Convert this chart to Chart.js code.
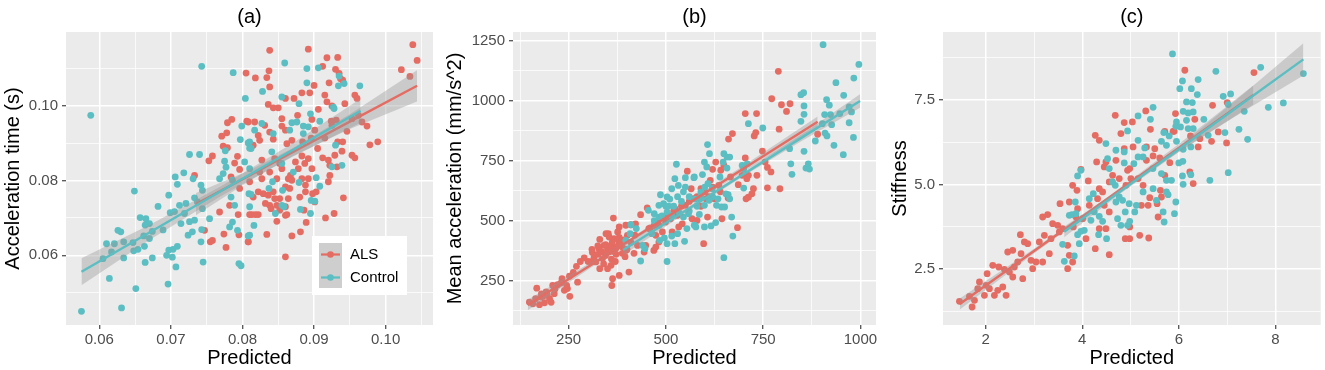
<!DOCTYPE html>
<html>
<head>
<meta charset="utf-8">
<script src="https://cdn.jsdelivr.net/npm/chart.js@4.4.1/dist/chart.umd.min.js"></script>
<style>
  html, body { margin: 0; padding: 0; background: #ffffff; }
  #wrap { position: relative; width: 1325px; height: 370px; }
  .panel { position: absolute; top: 0; height: 370px; }
</style>
</head>
<body>
<div id="wrap">
  <div class="panel" style="left:0;width:440px"><canvas id="chartA" width="440" height="370"></canvas></div>
  <div class="panel" style="left:440px;width:440px"><canvas id="chartB" width="440" height="370"></canvas></div>
  <div class="panel" style="left:880px;width:445px"><canvas id="chartC" width="445" height="370"></canvas></div>
</div>
<script>
const groups = ["ALS", "Control"];

// ---- panel (a): acceleration time ----
const aAls = [
  [0.0805,0.1088],[0.0785,0.0964],[0.0779,0.0955],[0.0806,0.0959],[0.0771,0.0919],[0.0778,0.0928],[0.0773,0.0892],
  [0.0779,0.0888],[0.0758,0.0866],[0.0753,0.0853],[0.0789,0.0847],[0.0793,0.0865],[0.0796,0.0830],[0.0733,0.0814],
  [0.0768,0.0716],[0.0758,0.0640],[0.0755,0.0636],[0.0774,0.0657],[0.0777,0.0621],[0.0747,0.0667],[0.0795,0.0655],
  [0.0808,0.0636],[0.0794,0.0709],[0.0782,0.0734],[0.0796,0.0779],[0.0784,0.0810],[0.0810,0.0709],
  [0.0838,0.1149],[0.0892,0.1152],[0.0918,0.1129],[0.0933,0.1130],[0.0912,0.1106],[0.0930,0.1098],[0.0935,0.1087],
  [0.0940,0.1069],[0.0937,0.1073],[0.0900,0.1055],[0.0921,0.1062],[0.0837,0.1094],[0.0818,0.1075],[0.0834,0.1076],
  [0.0838,0.1051],[0.0883,0.1035],[0.0894,0.1035],[0.0872,0.1020],[0.0860,0.1020],[0.0915,0.1029],[0.0918,0.1011],
  [0.0925,0.1000],[0.0943,0.1006],[0.0960,0.1020],[0.0957,0.1029],[0.0836,0.1004],[0.0850,0.0995],[0.0843,0.0995],
  [0.0855,0.0966],[0.0906,0.0991],[0.0817,0.0957],[0.0831,0.0948],[0.0855,0.0946],[0.0860,0.0935],[0.0877,0.0975],
  [0.0897,0.0964],[0.0901,0.0935],[0.0924,0.0959],[0.0931,0.0962],[0.0925,0.0948],[0.0946,0.0932],[0.0953,0.0966],
  [0.0967,0.0957],[0.0974,0.0946],[0.0978,0.0896],[0.0989,0.0904],[0.0962,0.0975],[0.1022,0.1097],[0.1034,0.1079],
  [0.1038,0.1164],[0.1044,0.1122],[0.0822,0.0921],[0.0838,0.0930],[0.0843,0.0911],[0.0824,0.0908],[0.0808,0.0957],
  [0.0815,0.0895],[0.0862,0.0899],[0.0869,0.0908],[0.0884,0.0904],[0.0896,0.0914],[0.0905,0.0886],[0.0915,0.0914],
  [0.0933,0.0904],[0.0940,0.0904],[0.0939,0.0879],[0.0929,0.0868],[0.0912,0.0861],[0.0920,0.0855],[0.0922,0.0841],
  [0.0932,0.0837],[0.0953,0.0868],[0.0957,0.0861],[0.0827,0.0855],[0.0845,0.0859],[0.0852,0.0846],[0.0883,0.0866],
  [0.0892,0.0859],[0.0887,0.0846],[0.0874,0.0850],[0.0878,0.0832],[0.0897,0.0832],[0.0838,0.0823],[0.0824,0.0823],
  [0.0810,0.0797],[0.0827,0.0805],[0.0848,0.0805],[0.0864,0.0805],[0.0869,0.0801],[0.0883,0.0805],[0.0892,0.0805],
  [0.0922,0.0814],[0.0920,0.0797],[0.0860,0.0783],[0.0866,0.0779],[0.0888,0.0788],[0.0888,0.0770],[0.0898,0.0765],
  [0.0903,0.0770],[0.0941,0.0754],[0.0822,0.0770],[0.0829,0.0765],[0.0836,0.0761],[0.0843,0.0770],[0.0845,0.0752],
  [0.0852,0.0752],[0.0864,0.0752],[0.0880,0.0756],[0.0815,0.0756],[0.0832,0.0739],[0.0838,0.0734],[0.0848,0.0734],
  [0.0860,0.0730],[0.0901,0.0743],[0.0886,0.0721],[0.0840,0.0725],[0.0852,0.0721],[0.0860,0.0707],[0.0862,0.0709],
  [0.0822,0.0709],[0.0813,0.0709],[0.0818,0.0709],[0.0848,0.0691],[0.0889,0.0688],[0.0916,0.0700],[0.0928,0.0712],
  [0.0834,0.0656],[0.0869,0.0652],[0.0881,0.0663],[0.0808,0.0636],[0.0860,0.0596],[0.0867,0.0814],[0.0855,0.0832]
];
const aCtrl = [
  [0.0743,0.1106],[0.0787,0.1089],[0.0804,0.1020],[0.0588,0.0975],[0.0649,0.0772],[0.0726,0.0870],[0.0740,0.0870],
  [0.0706,0.0810],[0.0718,0.0821],[0.0709,0.0790],[0.0697,0.0761],[0.0682,0.0731],[0.0657,0.0701],[0.0665,0.0698],
  [0.0670,0.0685],[0.0664,0.0681],[0.0626,0.0667],[0.0630,0.0663],[0.0610,0.0631],[0.0621,0.0631],[0.0634,0.0636],
  [0.0647,0.0634],[0.0654,0.0616],[0.0648,0.0612],[0.0663,0.0624],[0.0662,0.0652],[0.0670,0.0645],[0.0674,0.0664],
  [0.0689,0.0668],[0.0605,0.0591],[0.0617,0.0609],[0.0634,0.0593],[0.0664,0.0581],[0.0674,0.0593],[0.0614,0.0538],
  [0.0651,0.0511],[0.0696,0.0523],[0.0575,0.0450],[0.0631,0.0459],[0.0694,0.0600],[0.0697,0.0614],[0.0703,0.0616],
  [0.0709,0.0624],[0.0702,0.0595],[0.0707,0.0569],[0.0745,0.0582],[0.0742,0.0636],[0.0730,0.0663],[0.0724,0.0654],
  [0.0743,0.0669],[0.0714,0.0685],[0.0719,0.0712],[0.0699,0.0714],[0.0705,0.0717],[0.0712,0.0734],[0.0721,0.0739],
  [0.0733,0.0754],[0.0737,0.0743],[0.0742,0.0788],[0.0744,0.0774],[0.0754,0.0698],[0.0726,0.0690],[0.0733,0.0694],
  [0.0744,0.0725],[0.0731,0.0805],[0.0768,0.0805],[0.0773,0.0819],[0.0775,0.0852],[0.0777,0.0836],[0.0786,0.0801],
  [0.0784,0.0756],[0.0789,0.0734],[0.0786,0.0689],[0.0782,0.0676],[0.0793,0.0667],[0.0795,0.0578],[0.0798,0.0572],
  [0.0808,0.0652],[0.0799,0.0946],[0.0797,0.0910],[0.0808,0.0901],[0.0776,0.0880],[0.0803,0.0850],[0.0810,0.0887],
  [0.0809,0.0765],[0.0810,0.0730],
  [0.0859,0.1115],[0.0890,0.1100],[0.0906,0.1102],[0.0890,0.1062],[0.0935,0.1080],[0.0934,0.1054],[0.0942,0.1060],
  [0.0964,0.1054],[0.0828,0.1039],[0.0855,0.1024],[0.0879,0.1006],[0.0895,0.0979],[0.0927,0.0997],[0.0928,0.0993],
  [0.0869,0.0955],[0.0876,0.0957],[0.0885,0.0946],[0.0892,0.0944],[0.0908,0.0959],[0.0827,0.0953],[0.0817,0.0935],
  [0.0843,0.0926],[0.0866,0.0935],[0.0885,0.0926],[0.0810,0.0904],[0.0841,0.0877],[0.0855,0.0846],[0.0812,0.0886],
  [0.0810,0.0832],[0.0930,0.0895],[0.0925,0.0837],[0.0939,0.0841],[0.0871,0.0823],[0.0903,0.0808],[0.0908,0.0785],
  [0.0879,0.0795],[0.0842,0.0797],[0.0856,0.0774],[0.0812,0.0763],[0.0896,0.0747],[0.0901,0.0745],[0.0855,0.0734],
  [0.0858,0.0730],[0.0846,0.0712],[0.0881,0.0723],[0.0895,0.0712],[0.0816,0.0680],[0.0810,0.0654],[0.0837,0.0779]
];
const aAlsFitX = [0.0735, 0.0810, 0.0870, 0.0950, 0.1044];
const aAlsFitY = [0.0737, 0.0814, 0.0876, 0.0958, 0.1054];
const aAlsHi   = [0.0767, 0.0828, 0.0887, 0.0978, 0.1096];
const aAlsLo   = [0.0707, 0.0800, 0.0865, 0.0938, 0.1012];
const aCtrlFitX = [0.0575, 0.0670, 0.0770, 0.0870, 0.0965];
const aCtrlFitY = [0.0556, 0.0661, 0.0772, 0.0882, 0.0987];
const aCtrlHi   = [0.0592, 0.0681, 0.0785, 0.0900, 0.1019];
const aCtrlLo   = [0.0520, 0.0641, 0.0759, 0.0864, 0.0955];
const aXMajor = [0.06, 0.07, 0.08, 0.09, 0.10];
const aXMinor = [0.055, 0.065, 0.075, 0.085, 0.095, 0.105];
const aXLabels = ["0.06", "0.07", "0.08", "0.09", "0.10"];
const aYMajor = [0.06, 0.08, 0.10];
const aYMinor = [0.05, 0.07, 0.09, 0.11];
const aYLabels = ["0.06", "0.08", "0.10"];

// ---- panel (b): mean acceleration ----
const bAls = [
  [149,161],[168,219],[158,154],[179,182],[188,158],[175,150],[201,175],[192,203],[209,230],[233,258],[222,233],
  [239,210],[252,269],[253,185],[273,244],[247,217],[213,196],[185,186],[311,367],[330,422],[346,446],[307,328],
  [320,328],[337,342],[354,369],[363,397],[371,383],[367,425],[380,411],[388,390],[359,314],[363,258],[361,230],
  [380,272],[405,286],[388,364],[341,397],[354,432],[376,453],[397,481],[410,483],[380,474],[365,511],[352,446],
  [328,383],[401,439],[422,487],[435,525],[452,553],[456,467],[469,376],[448,397],[427,397],[418,364],[397,376],
  [444,369],[474,390],[482,411],[474,439],[491,453],[482,481],[499,494],[512,508],[523,550],[529,522],[550,564],
  [555,706],[542,487],[516,453],[533,474],[567,508],[571,592],[565,633],
  [165,175],[180,195],[195,190],[215,215],[230,240],[245,230],[205,160],
  [300,330],[315,345],[325,360],[335,370],[345,355],[350,380],[358,395],[365,372],[372,360],[378,395],[385,405],
  [392,420],[360,340],[340,320],[330,300],[350,300],[370,330],[395,350],[400,380],[410,410],[420,440],[380,430],
  [362,410],[345,400],[325,395],[310,380],[290,345],[280,330],[270,310],[262,285],
  [460,470],[470,480],[480,500],[500,520],[520,540],[540,560],[560,580],[580,600],[590,560],[600,620],[610,600],
  [620,640],[640,620],
  [789,1122],[772,1008],[797,983],[819,987],[810,955],[704,946],[733,946],[791,881],[731,867],[727,853],[671,863],
  [661,840],[748,790],[890,860],[755,744],[761,722],[770,703],[734,689],[761,637],[793,633],[704,761],[712,689],
  [708,675],[725,633],[721,612],[712,598],[706,591],[686,650],[696,689],[666,682],[641,710],[628,744],[620,714],
  [649,730],[614,668],[590,633],[603,591],[624,591],[607,515],[580,501],[644,508],[684,471],[597,404],[660,594],
  [636,647]
];
const bCtrl = [
  [527,735],[523,675],[550,679],[572,679],[486,608],[503,599],[515,633],[532,647],[550,640],[482,564],[494,571],
  [507,561],[455,543],[470,529],[482,515],[503,536],[515,522],[533,536],[545,515],[558,529],[573,481],[554,467],
  [530,446],[515,436],[496,428],[484,418],[503,404],[523,404],[548,414],[464,446],[446,383],[440,397],[435,332],
  [410,483],[408,446],[424,467],[503,330],[397,418],
  [520,560],[540,580],[560,600],[580,560],[590,600],[600,640],[620,600],[470,500],[490,520],[500,560],[510,590],
  [560,540],[575,590],[545,620],[530,600],
  [904,1233],[996,1151],[983,1094],[937,1075],[957,1022],[913,1004],[920,981],[847,1025],[854,1033],[855,978],
  [855,943],[847,914],[908,942],[923,942],[947,946],[971,974],[977,953],[902,904],[926,900],[971,908],[909,865],
  [914,853],[884,832],[932,814],[982,847],[956,775],[855,789],[818,800],[821,737],[824,693],[860,719],[866,737],
  [869,715],[749,886],[712,904],[607,817],[612,779],[649,779],[657,765],[664,765],[647,744],[599,744],[605,724],
  [639,682],[657,719],[696,730],[709,737],[700,715],[573,682],[594,692],[608,654],[619,633],[654,612],[700,636],
  [660,608],[634,591],[664,591],[590,619],[630,564],[643,557],[651,557],[599,564],[611,585],[586,526],[577,474],
  [599,474],[616,478],[628,492],[669,515],[672,436],[649,346],[586,591]
];
const bAlsFitX = [145, 350, 520, 700, 890];
const bAlsFitY = [149, 359, 533, 717, 912];
const bAlsHi   = [171, 367, 541, 730, 934];
const bAlsLo   = [127, 351, 525, 704, 890];
const bCtrlFitX = [390, 550, 700, 850, 999];
const bCtrlFitY = [378, 541, 694, 847, 999];
const bCtrlHi   = [400, 551, 702, 861, 1027];
const bCtrlLo   = [356, 531, 686, 833, 971];
const bXMajor = [250, 500, 750, 1000];
const bXMinor = [125, 375, 625, 875];
const bXLabels = ["250", "500", "750", "1000"];
const bYMajor = [250, 500, 750, 1000, 1250];
const bYMinor = [125, 375, 625, 875, 1125];
const bYLabels = ["250", "500", "750", "1000", "1250"];

// ---- panel (c): stiffness ----
const cAls = [
  [1.455,1.543],[1.717,1.376],[1.766,1.573],[1.662,1.692],[1.834,1.918],[1.869,2.115],[2.007,2.017],[1.972,1.721],
  [2.076,1.918],[2.179,1.721],[2.248,1.869],[2.352,1.967],[2.421,1.721],[2.145,2.608],[2.269,2.559],[2.386,2.490],
  [2.028,2.362],[2.490,2.411],[2.559,2.263],[2.593,2.559],[2.662,2.707],[2.455,3.003],[2.559,3.052],[2.731,2.954],
  [2.800,3.299],[2.869,3.249],[2.717,3.516],[2.766,2.214],[2.972,2.510],[2.938,2.756],[3.041,2.707],[3.179,2.707],
  [3.110,3.299],[3.179,4.038],[3.283,4.108],[3.214,3.496],[3.352,3.397],[3.386,3.841],[3.317,2.954],[3.490,3.792],
  [3.538,4.433],[3.524,3.595],[3.593,3.693],[3.697,3.200],[3.731,2.904],[3.697,2.510],[3.800,2.707],[3.800,4.975],
  [3.890,4.827],[3.903,4.285],[3.731,4.482],[3.814,3.743],[3.869,4.038],[3.972,5.449],[4.007,3.989],[4.076,3.397],
  [4.124,5.104],[4.145,4.384],[4.269,6.455],[4.352,6.307],[4.317,4.581],[4.269,3.101],[4.352,4.877],[4.421,4.778],
  [4.455,5.518],[4.559,5.074],[4.559,2.924],[4.490,3.693],[4.352,3.693],[4.559,4.187],[4.455,4.384],[4.628,5.271],
  [4.683,7.046],[4.869,6.830],[4.800,6.504],[4.869,6.060],[4.938,5.419],[4.766,5.173],[4.904,4.975],[5.007,5.173],
  [4.890,3.397],[4.697,5.715],[4.490,5.666],[4.297,5.666],
  [6.125,8.378],[7.557,8.309],[6.699,7.342],[7.003,7.421],[5.315,7.175],[5.412,6.632],[5.038,6.849],[5.931,7.096],
  [5.882,6.573],[5.709,6.573],[6.332,6.928],[6.242,6.435],[6.401,6.110],[6.678,6.277],[6.990,6.228],[6.817,6.553],
  [5.052,6.110],[5.329,6.110],[5.502,6.060],[5.329,5.715],[5.467,5.843],[5.606,5.784],[5.813,5.646],[6.228,5.370],
  [6.298,5.025],[5.709,5.271],[5.156,5.173],[4.983,5.469],[5.260,4.975],[5.619,4.827],[5.398,4.610],[5.640,4.630],
  [5.225,4.384],[5.364,4.384],[5.550,4.433],[5.571,4.038],[4.983,3.743],[5.190,3.496],[5.377,3.417],[4.983,3.397],
  [6.436,6.356],[5.903,6.573]
];
const cCtrl = [
  [3.593,3.230],[3.628,2.727],[3.731,4.088],[3.786,4.108],[3.869,4.137],[3.834,2.884],[3.938,3.249],[3.972,3.614],
  [4.041,3.644],[3.903,3.516],[3.855,4.482],[3.903,5.252],[3.972,5.419],[4.145,4.581],[4.228,4.729],[4.248,4.187],
  [4.179,3.940],[4.352,4.058],[4.421,3.910],[4.338,3.516],[4.503,3.397],[4.524,5.764],[4.559,5.469],[4.490,6.209],
  [4.697,6.012],[4.869,5.962],[4.938,6.583],[4.869,5.636],[4.628,5.074],[4.683,4.975],[4.766,4.630],[4.697,4.482],
  [4.835,4.532],[4.890,4.187],[4.800,3.792],[4.731,3.989],[4.938,3.792],[4.972,4.433],
  [5.869,8.861],[6.768,8.348],[7.696,8.466],[8.581,8.279],[6.401,8.102],[6.076,8.062],[6.021,7.835],[6.260,7.835],
  [6.384,7.658],[6.920,7.608],[7.073,7.678],[6.159,7.441],[6.280,7.421],[7.024,7.362],[7.855,7.283],[8.166,7.411],
  [7.356,7.165],[5.467,7.283],[5.156,7.027],[5.412,6.928],[6.090,7.165],[6.194,7.115],[6.298,7.145],[6.519,6.928],
  [5.952,6.849],[5.938,6.721],[6.159,6.898],[6.194,6.652],[6.298,6.652],[6.035,6.701],[7.246,6.632],[6.955,6.534],
  [6.609,6.455],[7.426,6.336],[5.689,6.534],[5.800,6.435],[5.952,6.277],[5.640,6.277],[5.744,6.159],[5.156,6.307],
  [5.294,6.080],[5.156,5.814],[5.260,5.814],[5.069,5.616],[6.090,6.041],[6.249,6.110],[6.000,5.636],[6.083,5.686],
  [5.464,5.469],[5.640,5.321],[5.744,5.123],[5.848,5.123],[6.076,5.252],[6.249,5.291],[6.644,5.123],[7.024,5.350],
  [6.090,5.005],[5.744,4.778],[5.778,4.699],[5.467,4.877],[5.260,4.778],[5.536,4.531],[5.938,4.482],[5.675,4.187],
  [5.910,4.137],[5.696,3.890],[5.121,4.384],[5.087,4.187],[4.983,3.910]
];
const cAlsFitX = [1.461, 3.0, 4.5, 6.0, 7.544];
const cAlsFitY = [1.465, 3.029, 4.553, 6.077, 7.648];
const cAlsHi   = [1.625, 3.099, 4.603, 6.197, 7.928];
const cAlsLo   = [1.305, 2.959, 4.503, 5.957, 7.368];
const cCtrlFitX = [3.625, 4.8, 6.0, 7.3, 8.581];
const cCtrlFitY = [3.600, 4.809, 6.044, 7.382, 8.700];
const cCtrlHi   = [3.760, 4.879, 6.124, 7.632, 9.180];
const cCtrlLo   = [3.440, 4.739, 5.964, 7.132, 8.220];
const cXMajor = [2, 4, 6, 8];
const cXMinor = [3, 5, 7];
const cXLabels = ["2", "4", "6", "8"];
const cYMajor = [2.5, 5.0, 7.5];
const cYMinor = [1.25, 3.75, 6.25, 8.75];
const cYLabels = ["2.5", "5.0", "7.5"];

const FONT = "'Liberation Sans', Arial, Helvetica, sans-serif";
const ALS_COL = "#E46C63";
const CTRL_COL = "#5BBEC2";
const BAND_COL = "rgba(153,153,153,0.4)";

function near(list, v) {
  return list.findIndex(m => Math.abs(m - v) < 1e-9);
}

function toXY(xs, ys) {
  return xs.map((x, i) => ({x: x, y: ys[i]}));
}

function pairs(list) {
  return list.map(p => ({x: p[0], y: p[1]}));
}

const panelBg = {
  id: "panelBg",
  beforeDraw(chart) {
    const a = chart.chartArea;
    const ctx = chart.ctx;
    ctx.save();
    ctx.fillStyle = "#EBEBEB";
    ctx.fillRect(a.left, a.top, a.right - a.left, a.bottom - a.top);
    ctx.restore();
  }
};

const groupLegend = {
  id: "groupLegend",
  afterDraw(chart, args, opts) {
    if (!opts.show) return;
    const ctx = chart.ctx;
    const cols = [ALS_COL, CTRL_COL];
    ctx.save();
    ctx.fillStyle = "#FFFFFF";
    ctx.fillRect(312, 236, 95, 59);
    ctx.fillStyle = "#CECECE";
    ctx.fillRect(319, 243, 23, 45);
    groups.forEach((name, i) => {
      const y = 254.5 + i * 23;
      ctx.strokeStyle = cols[i];
      ctx.lineWidth = 2.2;
      ctx.beginPath();
      ctx.moveTo(321, y);
      ctx.lineTo(340, y);
      ctx.stroke();
      ctx.fillStyle = cols[i];
      ctx.beginPath();
      ctx.arc(330.5, y, 3.3, 0, Math.PI * 2);
      ctx.fill();
      ctx.fillStyle = "#000000";
      ctx.font = "15px " + FONT;
      ctx.textBaseline = "middle";
      ctx.fillText(name, 350, y);
    });
    ctx.restore();
  }
};

function axis(p) {
  return {
    type: "linear",
    min: p.min,
    max: p.max,
    afterBuildTicks: s => {
      s.ticks = p.major.concat(p.minor).sort((a, b) => a - b).map(v => ({value: v}));
    },
    afterFit: s => {
      if (p.width) s.width = p.width;
      if (p.height) s.height = p.height;
      s.paddingLeft = 0; s.paddingRight = 0; s.paddingTop = 0; s.paddingBottom = 0;
    },
    grid: {
      color: "#FFFFFF",
      lineWidth: c => (c.tick && near(p.major, c.tick.value) >= 0) ? 1.5 : 0.75,
      tickColor: c => (c.tick && near(p.major, c.tick.value) >= 0) ? "#333333" : "rgba(0,0,0,0)",
      tickLength: 4,
      tickWidth: 1.1
    },
    border: {display: false},
    ticks: {
      autoSkip: false,
      maxRotation: 0,
      color: "#4D4D4D",
      padding: p.tickPad,
      font: {family: FONT, size: 15},
      callback: v => {
        const i = near(p.major, v);
        return i < 0 ? "" : p.labels[i];
      }
    },
    title: {
      display: true,
      text: p.title,
      color: "#000000",
      font: {family: FONT, size: 20},
      padding: p.titlePad
    }
  };
}

function makePanel(id, d) {
  const lineDs = (label, xs, ys, col, order) => ({
    type: "line", label: label, data: toXY(xs, ys), showLine: true,
    borderColor: col, borderWidth: 2.4, pointRadius: 0, fill: false, order: order
  });
  const edgeDs = (label, xs, ys, fill, order) => ({
    type: "line", label: label, data: toXY(xs, ys), showLine: true,
    borderWidth: 0, borderColor: "rgba(0,0,0,0)", pointRadius: 0,
    fill: fill, backgroundColor: BAND_COL, order: order
  });
  return new Chart(document.getElementById(id), {
    type: "scatter",
    data: {
      datasets: [
        {label: "ALS", data: pairs(d.als), backgroundColor: ALS_COL, borderWidth: 0, pointRadius: 3.4, order: 7},
        {label: "Control", data: pairs(d.ctrl), backgroundColor: CTRL_COL, borderWidth: 0, pointRadius: 3.4, order: 6},
        edgeDs("ALS hi", d.alsFit[0], d.alsFit[2], false, 5),
        edgeDs("ALS lo", d.alsFit[0], d.alsFit[3], "-1", 5),
        lineDs("ALS fit", d.alsFit[0], d.alsFit[1], ALS_COL, 4),
        edgeDs("Control hi", d.ctrlFit[0], d.ctrlFit[2], false, 3),
        edgeDs("Control lo", d.ctrlFit[0], d.ctrlFit[3], "-1", 3),
        lineDs("Control fit", d.ctrlFit[0], d.ctrlFit[1], CTRL_COL, 2)
      ]
    },
    options: {
      responsive: false,
      animation: false,
      events: [],
      layout: {padding: {left: 0, top: 0, right: d.padRight, bottom: 0}},
      scales: {
        x: axis(Object.assign({height: 45, tickPad: 2, titlePad: {top: 0, bottom: 0}}, d.x)),
        y: axis(Object.assign({tickPad: 4}, d.y))
      },
      plugins: {
        legend: {display: false},
        tooltip: {enabled: false},
        title: {
          display: true, text: d.title, fullSize: false, color: "#000000",
          font: {family: FONT, size: 20, weight: "normal"},
          padding: {top: 5, bottom: 3}
        },
        groupLegend: {show: !!d.legend}
      }
    },
    plugins: [panelBg, groupLegend]
  });
}

makePanel("chartA", {
  title: "(a)", padRight: 7, legend: true,
  als: aAls, ctrl: aCtrl,
  alsFit: [aAlsFitX, aAlsFitY, aAlsHi, aAlsLo],
  ctrlFit: [aCtrlFitX, aCtrlFitY, aCtrlHi, aCtrlLo],
  x: {min: 0.05534, max: 0.10662, major: aXMajor, minor: aXMinor, labels: aXLabels, title: "Predicted"},
  y: {min: 0.04134, max: 0.1198, major: aYMajor, minor: aYMinor, labels: aYLabels,
      title: "Acceleration time (s)", width: 66, titlePad: {top: 1, bottom: 0}}
});

makePanel("chartB", {
  title: "(b)", padRight: 3.3,
  als: bAls, ctrl: bCtrl,
  alsFit: [bAlsFitX, bAlsFitY, bAlsHi, bAlsLo],
  ctrlFit: [bCtrlFitX, bCtrlFitY, bCtrlHi, bCtrlLo],
  x: {min: 107, max: 1040, major: bXMajor, minor: bXMinor, labels: bXLabels, title: "Predicted"},
  y: {min: 65.4, max: 1286, major: bYMajor, minor: bYMinor, labels: bYLabels,
      title: "Mean acceleration (mm/s^2)", width: 73, titlePad: {top: 3, bottom: 0}}
});

makePanel("chartC", {
  title: "(c)", padRight: 4.3,
  als: cAls, ctrl: cCtrl,
  alsFit: [cAlsFitX, cAlsFitY, cAlsHi, cAlsLo],
  ctrlFit: [cCtrlFitX, cCtrlFitY, cCtrlHi, cCtrlLo],
  x: {min: 1.114, max: 8.94, major: cXMajor, minor: cXMinor, labels: cXLabels, title: "Predicted"},
  y: {min: 0.843, max: 9.51, major: cYMajor, minor: cYMinor, labels: cYLabels,
      title: "Stiffness", width: 63, titlePad: {top: 8, bottom: 0}}
});
</script>
</body>
</html>
